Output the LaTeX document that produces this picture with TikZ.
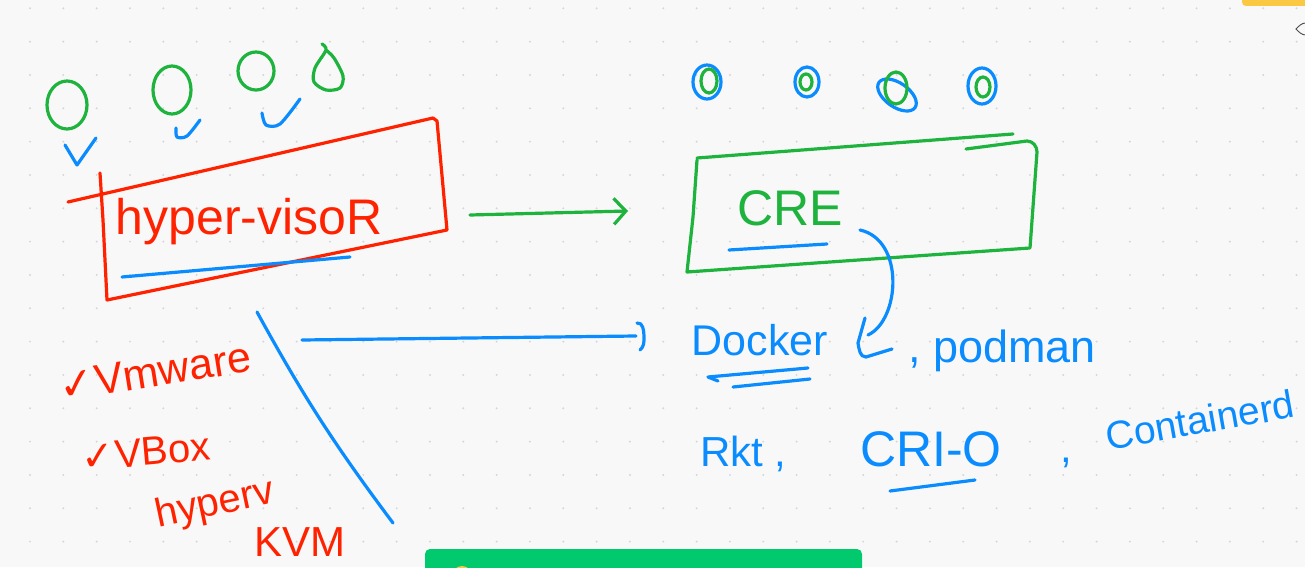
\documentclass[tikz,border=0pt]{standalone}
\usepackage{fontspec}
\setmainfont{Liberation Sans}
\newfontfamily\symfont{DejaVu Sans}
\usetikzlibrary{arrows.meta,calc}
\definecolor{bg}{HTML}{F8F8F8}
\definecolor{dotc}{HTML}{D6D6D6}
\definecolor{pred}{HTML}{FF2200}
\definecolor{pgreen}{HTML}{1DB33C}
\definecolor{pblue}{HTML}{0A8CFF}
\definecolor{bargreen}{HTML}{00C96E}
\definecolor{baryellow}{HTML}{FBC843}
\begin{document}
\begin{tikzpicture}[x=1pt,y=-1pt,line cap=round,line join=round,
  pen/.style={line width=3.2pt},
  redpen/.style={pen,draw=pred},
  greenpen/.style={pen,draw=pgreen},
  bluepen/.style={pen,draw=pblue},
  hand/.style={inner sep=0pt,font=\fontsize{#1pt}{#1pt}\selectfont},
  redtext/.style={hand=#1,text=pred},
  bluetext/.style={hand=#1,text=pblue},
  greentext/.style={hand=#1,text=pgreen}]
\useasboundingbox (0,0) rectangle (1305,567);
\clip (0,0) rectangle (1305,567);
\fill[bg] (0,0) rectangle (1305,567);
\foreach \i in {0,...,38} \foreach \j in {0,...,16}
  \fill[dotc] (30+33.33*\i,8.33+33.33*\j) circle (1.1);

% ---------- left: VMs on hypervisor ----------
\draw[greenpen] (67,105) ellipse [x radius=20,y radius=24];
\draw[greenpen] (172,90) ellipse [x radius=19,y radius=24];
\draw[greenpen] (256,71) ellipse [x radius=18,y radius=19];
\draw[greenpen] plot[smooth] coordinates {(322,44) (326,50) (315,68) (314,82) (326,90) (340,88) (343,76) (334,58) (326,50)};
\draw[bluepen] (65,145) -- (77,165) -- (96,138);
\draw[bluepen] plot[smooth] coordinates {(176,128) (177,137) (187,136) (200,120)};
\draw[bluepen] plot[smooth] coordinates {(262,113) (266,125) (280,124) (300,99)};

\draw[redpen] (68,202) -- (433,118) -- (437,121) -- (447,230) -- (107,300) -- (103,220) -- (100,173);
\node[redtext=50] (hv) at (249,222) {hyper-visoR};
\draw[bluepen] (122,277) -- (350,257);

% red list
\node[redtext=43,rotate=9] (vmw) at (155,372) {{\symfont ✓}Vmware};
\node[redtext=40,rotate=5] (vbox) at (146,452) {{\symfont ✓}VBox};
\node[redtext=40,rotate=12] (hyv) at (215,505) {hyperv};
\node[redtext=42] (kvm) at (300,542) {KVM};
\coordinate (dTop) at (257,312);
\coordinate (dBot) at (393,523);
\draw[bluepen] (dTop) to[bend right=4] (dBot);

% ---------- arrows ----------
\coordinate (hvR) at (470,215);
\coordinate (creL) at (628,211);
\draw[greenpen,-{Straight Barb[length=12pt,width=26pt]}] (hvR) -- (creL);
\coordinate (lstR) at (302,340);
\coordinate (dkL) at (636,336);
\draw[bluepen] (lstR) -- (dkL);
\draw[bluepen] ($(dkL)+(1,-13)$) to[out=10,in=90] ($(dkL)+(8,1)$) to[out=-90,in=40] ($(dkL)+(4,14)$);

% ---------- right: containers on CRE ----------
\draw[bluepen] (707,82) ellipse [x radius=14,y radius=17];
\draw[greenpen] (709,81) ellipse [x radius=8,y radius=12];
\draw[bluepen] (807,82) ellipse [x radius=12,y radius=15];
\draw[greenpen] (806,82) ellipse [x radius=6,y radius=8];
\draw[bluepen,rotate around={-35:(897,95)}] (897,95) ellipse [x radius=22,y radius=12];
\draw[greenpen] (896,88) ellipse [x radius=11,y radius=16];
\draw[bluepen] (982,86) ellipse [x radius=14,y radius=18];
\draw[greenpen] (983,87) ellipse [x radius=7,y radius=10];

\draw[greenpen] (697,158) -- (1013,134);
\draw[greenpen] (966,149) -- (1027,141) to[out=0,in=90] (1037,152) -- (1030,248) -- (687,272) -- (693,217) -- (697,160);
\node[greentext=50] (cre) at (790,208) {CRE};
\draw[bluepen] (729,250) -- (827,244);

\coordinate (cs) at (860,230);
\coordinate (ce) at (868,335);
\draw[bluepen] (cs) .. controls (905,240) and (900,320) .. (ce);
\draw[bluepen] (865,318) -- (858,343) to[out=-80,in=180] (866,357) -- (892,349);

\node[bluetext=43] (dk) at (760,340) {Docker};
\draw[bluepen] (808,368) -- (708,377) -- (718,381);
\draw[bluepen] (733,387) -- (810,379);
\node[bluetext=45,anchor=base west] (pod) at (908,362) {, podman};
\node[bluetext=42,anchor=base west] (rkt) at (700,466) {Rkt ,};
\node[bluetext=50,anchor=base west] (crio) at (860,466) {CRI-O};
\draw[bluepen] (890,491) -- (975,480);
\node[bluetext=42,anchor=base west] (cm) at (1060,462) {,};
\node[bluetext=39,rotate=10] (ctd) at (1200,420) {Containerd};

% ---------- UI bits ----------
\fill[bargreen,rounded corners=5pt] (425,549) rectangle (862,600);
\fill[baryellow] (462,576) circle (10);
\fill[baryellow,rounded corners=4pt] (1242,-10) rectangle (1315,6);
\draw[black!70,line width=0.9pt] (1296,29) to[out=45,in=180] (1306,23);
\draw[black!70,line width=0.9pt] (1296,29) to[out=-45,in=180] (1306,35);
\end{tikzpicture}
\end{document}
